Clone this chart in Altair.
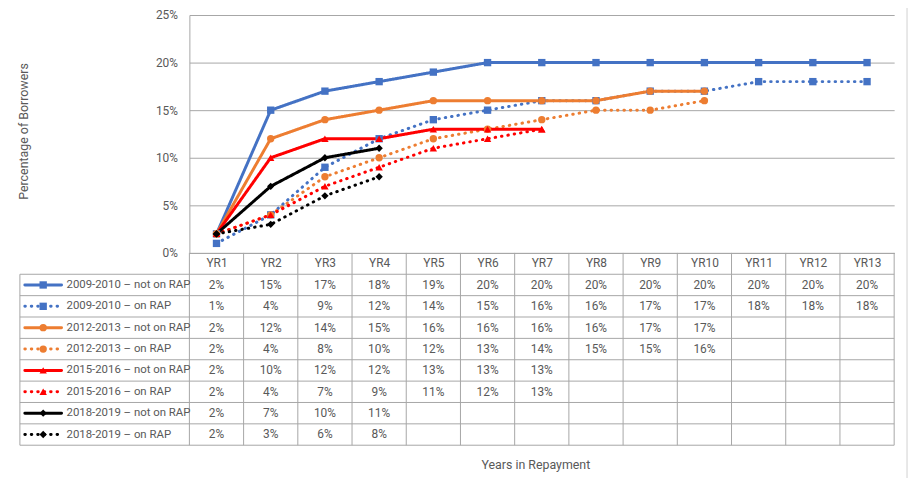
import altair as alt
import pandas as pd

# ---------------- data ----------------
years = ["YR1", "YR2", "YR3", "YR4", "YR5", "YR6", "YR7", "YR8", "YR9", "YR10", "YR11", "YR12", "YR13"]
series_names = [
    "2009-2010 – not on RAP",
    "2009-2010 – on RAP",
    "2012-2013 – not on RAP",
    "2012-2013 – on RAP",
    "2015-2016 – not on RAP",
    "2015-2016 – on RAP",
    "2018-2019 – not on RAP",
    "2018-2019 – on RAP",
]
v_0910_not = [2, 15, 17, 18, 19, 20, 20, 20, 20, 20, 20, 20, 20]
v_0910_rap = [1, 4, 9, 12, 14, 15, 16, 16, 17, 17, 18, 18, 18]
v_1213_not = [2, 12, 14, 15, 16, 16, 16, 16, 17, 17]
v_1213_rap = [2, 4, 8, 10, 12, 13, 14, 15, 15, 16]
v_1516_not = [2, 10, 12, 12, 13, 13, 13]
v_1516_rap = [2, 4, 7, 9, 11, 12, 13]
v_1819_not = [2, 7, 10, 11]
v_1819_rap = [2, 3, 6, 8]
all_values = [v_0910_not, v_0910_rap, v_1213_not, v_1213_rap,
              v_1516_not, v_1516_rap, v_1819_not, v_1819_rap]
y_ticks = [0, 0.05, 0.10, 0.15, 0.20, 0.25]

# ---------------- styles ----------------
colors = ["#4472C4", "#4472C4", "#ED7D31", "#ED7D31", "#FF0000", "#FF0000", "#000000", "#000000"]
solid = [1, 0]
dotted = [0.5, 6]
dashes = [solid, dotted, solid, dotted, solid, dotted, solid, dotted]
shapes = ["square", "square", "circle", "circle", "triangle-up", "triangle-up", "diamond", "diamond"]
sizes = [55, 55, 95, 95, 85, 85, 65, 65]
GRID = "#a6a6a6"
TXT = "#595959"
FONT = "Roboto, sans-serif"

rows = []
for k, (name, vals) in enumerate(zip(series_names, all_values)):
    for j, v in enumerate(vals):
        rows.append({"series": name, "year": years[j], "col": j, "row": k + 1,
                     "value": v / 100.0, "label": f"{v}%"})
df = pd.DataFrame(rows)

color_enc = alt.Color("series:N", scale=alt.Scale(domain=series_names, range=colors), legend=None)
dash_enc = alt.StrokeDash("series:N", scale=alt.Scale(domain=series_names, range=dashes), legend=None)
shape_enc = alt.Shape("series:N", scale=alt.Scale(domain=series_names, range=shapes), legend=None)
size_enc = alt.Size("series:N", scale=alt.Scale(domain=series_names, range=sizes), legend=None)

X = alt.X("year:N", sort=years,
          scale=alt.Scale(type="point", domain=years, padding=0.5),
          axis=alt.Axis(title="Years in Repayment", ticks=False, labelAngle=0, labelPadding=5,
                        labelColor=TXT, labelFontSize=12, domainColor=GRID, domainWidth=1,
                        titleColor=TXT, titleFontSize=12.5, titleFontWeight="normal",
                        titleY=214, titleX=349, titleBaseline="middle", titleAlign="center"))
Y = alt.Y("value:Q", scale=alt.Scale(domain=[0, 0.25], nice=False),
          axis=alt.Axis(values=y_ticks, format=".0%", title="Percentage of Borrowers",
                        ticks=False, labelPadding=12, labelColor=TXT, labelFontSize=12,
                        grid=True, gridColor=GRID, gridWidth=1, domainColor=GRID,
                        titleColor=TXT, titleFontSize=12.5, titleFontWeight="normal",
                        titleX=-167, titleY=117, titleAngle=270,
                        titleAlign="center", titleBaseline="middle"))

base = alt.Chart(df)
lines = base.mark_line(strokeWidth=3, strokeCap="round", strokeJoin="round").encode(
    x=X, y=Y, color=color_enc, strokeDash=dash_enc)
points = base.mark_point(filled=True, opacity=1).encode(
    x=X, y=Y, color=color_enc, shape=shape_enc, size=size_enc)
plot_layer = alt.layer(lines, points)

# ---------------- data table ----------------
TX = alt.Scale(domain=[0, 13], nice=False, zero=False)
TY = alt.Scale(domain=[0, 9], range=[240, 434], nice=False, zero=False)

cells = base.transform_calculate(cx="datum.col + 0.5", cy="datum.row + 0.5").mark_text(
    fontSize=12, color=TXT, baseline="middle", align="center").encode(
    x=alt.X("cx:Q", scale=TX, axis=None),
    y=alt.Y("cy:Q", scale=TY, axis=None),
    text="label:N")

hlines_df = pd.DataFrame({"r": list(range(1, len(series_names) + 2))})
hlines = alt.Chart(hlines_df).mark_rule(color=GRID, strokeWidth=1).encode(
    y=alt.Y("r:Q", scale=TY, axis=None), x=alt.value(-171), x2=alt.value(711))

vlines_df = pd.DataFrame({"c": list(range(0, len(years) + 1)), "y0": 0, "y1": len(series_names) + 1})
vlines = alt.Chart(vlines_df).mark_rule(color=GRID, strokeWidth=1).encode(
    x=alt.X("c:Q", scale=TX, axis=None),
    y=alt.Y("y0:Q", scale=TY, axis=None), y2="y1:Q")

leftb_df = pd.DataFrame({"y0": [1], "y1": [len(series_names) + 1]})
leftb = alt.Chart(leftb_df).mark_rule(color=GRID, strokeWidth=1).encode(
    x=alt.value(-171), y=alt.Y("y0:Q", scale=TY, axis=None), y2="y1:Q")

leg_df = pd.DataFrame({"series": series_names, "ly": [k + 1.5 for k in range(len(series_names))]})
leg_base = alt.Chart(leg_df)
leg_line = leg_base.mark_rule(strokeWidth=3, strokeCap="round").encode(
    x=alt.value(-166), x2=alt.value(-129),
    y=alt.Y("ly:Q", scale=TY, axis=None), color=color_enc, strokeDash=dash_enc)
leg_pt = leg_base.mark_point(filled=True, opacity=1).encode(
    x=alt.value(-147.5), y=alt.Y("ly:Q", scale=TY, axis=None),
    color=color_enc, shape=shape_enc, size=size_enc)
leg_txt = leg_base.mark_text(align="left", baseline="middle", fontSize=11.5, color=TXT).encode(
    x=alt.value(-124), y=alt.Y("ly:Q", scale=TY, axis=None), text="series:N")

border = alt.Chart(pd.DataFrame({"a": [0]})).mark_rule(color="#d0d0d0", strokeWidth=1).encode(
    x=alt.value(724), y=alt.value(-13), y2=alt.value(468))

table_layer = alt.layer(hlines, vlines, leftb, cells, leg_line, leg_pt, leg_txt, border)

chart = alt.layer(plot_layer, table_layer).resolve_scale(
    x="independent", y="independent"
).properties(
    width=711, height=240,
    autosize=alt.AutoSizeParams(type="none"),
    padding={"left": 183, "top": 5, "right": 18, "bottom": 225},
    background="white",
).configure(font=FONT).configure_view(stroke=None)

chart.save("out.html", embed_options={"renderer": "svg", "actions": False})
